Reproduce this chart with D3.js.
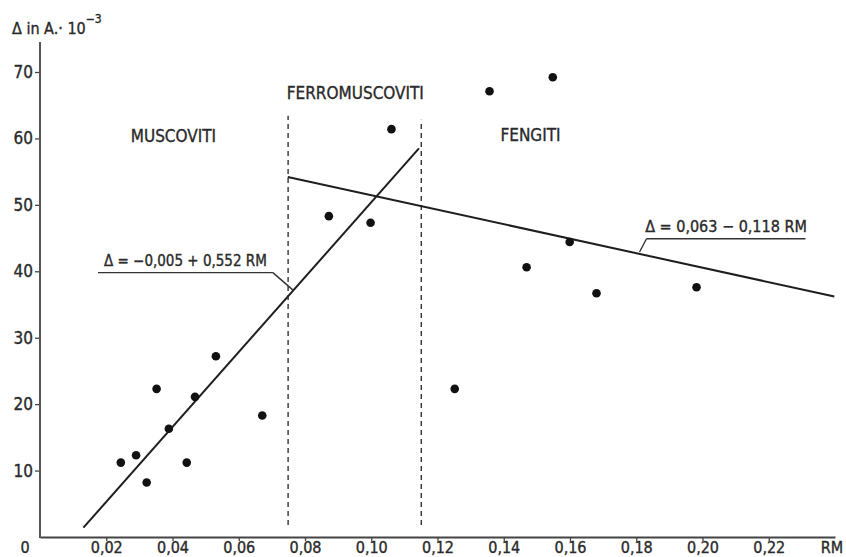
<!DOCTYPE html>
<html>
<head>
<meta charset="utf-8">
<script src="https://cdn.jsdelivr.net/npm/d3@7"></script>
<style>
  body { margin: 0; background: #fff; }
  svg { display: block; }
  text { font-family: "Liberation Sans Narrow", "DejaVu Sans Condensed", "DejaVu Sans", sans-serif; fill: #2a2a2a; stroke: #2a2a2a; stroke-width: 0.35px; }
</style>
</head>
<body>
<div id="chart"></div>
<script>
// RM and Δ (10^-3 Å)
const rmValues = [0.0244, 0.0290, 0.0322, 0.0352, 0.0389, 0.0443, 0.0468, 0.0531, 0.0671,
  0.0872, 0.0998, 0.1061, 0.1252, 0.1357, 0.1469, 0.1548, 0.1599, 0.1680, 0.1982];
const deltaValues = [11.2, 12.3, 8.2, 22.3, 16.3, 11.2, 21.1, 27.2, 18.3,
  48.3, 47.3, 61.4, 22.3, 67.1, 40.6, 69.2, 44.4, 36.7, 37.6];

const xTicks = [0.02, 0.04, 0.06, 0.08, 0.10, 0.12, 0.14, 0.16, 0.18, 0.20, 0.22];
const yTicks = [10, 20, 30, 40, 50, 60, 70];

// regression lines as drawn: [RM, Δ] end points
const fitMuscoviti = [[0.0131, 1.4], [0.1144, 58.5]];
const fitFengiti = [[0.0748, 54.2], [0.2398, 36.2]];

// field boundaries (dashed)
const boundaries = [
  { rm: 0.0749, from: 1.8, to: 63.4 },
  { rm: 0.1151, from: 1.8, to: 62.8 }
];

const fieldLabels = [
  { text: "MUSCOVITI", rm: 0.0274, delta: 59.4 },
  { text: "FERROMUSCOVITI", rm: 0.0745, delta: 65.9 },
  { text: "FENGITI", rm: 0.1390, delta: 59.6 }
];

// equation labels with underline + leader to their line
const equations = [
  { text: "Δ = −0,005 + 0,552  RM", x0: 0.0175, x1: 0.0703, y: 39.8, tip: [0.0763, 37.2], size: 15 },
  { text: "Δ = 0,063 − 0,118 RM", x0: 0.1831, x1: 0.2311, y: 44.9, tip: [0.1810, 42.9], size: 16 }
];

const width = 846, height = 557;
const svg = d3.select("#chart").append("svg")
  .attr("width", width)
  .attr("height", height);

const x = d3.scaleLinear().domain([0, 0.24]).range([40, 835]);
const y = d3.scaleLinear().domain([0, 70]).range([537, 72]);
const yTop = 74.5;

const fmt = v => d3.format(".2f")(v).replace(".", ",");

// x axis
const xAxis = svg.append("g")
  .attr("transform", `translate(0,${y(0)})`)
  .call(d3.axisBottom(x).tickValues(xTicks).tickFormat(fmt).tickSize(4).tickSizeOuter(0));
xAxis.select(".domain").attr("stroke", "#444").attr("stroke-width", 2);
xAxis.selectAll(".tick line").attr("stroke", "#444").attr("stroke-width", 1.3);
xAxis.selectAll("text")
  .attr("y", 16).attr("dy", 0)
  .style("font-size", "16px")
  .attr("fill", "#2a2a2a");

// y axis
const yAxis = svg.append("g")
  .attr("transform", `translate(${x(0)},0)`)
  .call(d3.axisLeft(y).tickValues(yTicks).tickSize(5).tickSizeOuter(0));
yAxis.select(".domain").remove();
yAxis.selectAll(".tick line").attr("stroke", "#444").attr("stroke-width", 1.3);
yAxis.selectAll("text")
  .attr("x", -7)
  .style("font-size", "17px")
  .attr("fill", "#2a2a2a");

svg.append("line")
  .attr("x1", x(0)).attr("x2", x(0))
  .attr("y1", y(0) + 1).attr("y2", y(yTop))
  .attr("stroke", "#555")
  .attr("stroke-width", 2);

svg.append("text")
  .attr("x", x(0) - 15).attr("y", y(0) + 16)
  .attr("text-anchor", "middle")
  .style("font-size", "16px")
  .text("0");

svg.append("text")
  .attr("x", 832).attr("y", y(0) + 16)
  .attr("text-anchor", "middle")
  .style("font-size", "16px")
  .text("RM");

// y label
const yLabel = svg.append("text")
  .attr("x", 12).attr("y", 34)
  .style("font-size", "16px");
yLabel.append("tspan").text("Δ in A.· 10");
yLabel.append("tspan")
  .attr("dy", -11)
  .style("font-size", "12px")
  .text("−3");

// boundaries
svg.selectAll(".boundary")
  .data(boundaries)
  .enter().append("line")
  .attr("class", "boundary")
  .attr("x1", d => x(d.rm)).attr("x2", d => x(d.rm))
  .attr("y1", d => y(d.from)).attr("y2", d => y(d.to))
  .attr("stroke", "#333")
  .attr("stroke-width", 1.4)
  .attr("stroke-dasharray", "5,4");

// fits
const line = d3.line().x(d => x(d[0])).y(d => y(d[1]));
[fitMuscoviti, fitFengiti].forEach(pts => {
  svg.append("path")
    .datum(pts)
    .attr("d", line)
    .attr("fill", "none")
    .attr("stroke", "#1e1e1e")
    .attr("stroke-width", 2);
});

// points
svg.selectAll(".dot")
  .data(rmValues.map((rm, i) => ({ rm, delta: deltaValues[i] })))
  .enter().append("circle")
  .attr("class", "dot")
  .attr("cx", d => x(d.rm))
  .attr("cy", d => y(d.delta))
  .attr("r", 4.3)
  .attr("fill", "#111");

// field labels
svg.selectAll(".field")
  .data(fieldLabels)
  .enter().append("text")
  .attr("class", "field")
  .attr("x", d => x(d.rm))
  .attr("y", d => y(d.delta))
  .style("font-size", "17px")
  .text(d => d.text);

// equations
equations.forEach(eq => {
  svg.append("text")
    .attr("x", (x(eq.x0) + x(eq.x1)) / 2)
    .attr("y", y(eq.y) - 7)
    .attr("text-anchor", "middle")
    .style("font-size", `${eq.size}px`)
    .text(eq.text);
  svg.append("path")
    .datum([[eq.x0, eq.y], [eq.x1, eq.y]])
    .attr("d", line)
    .attr("fill", "none")
    .attr("stroke", "#333")
    .attr("stroke-width", 1.4);
  const end = eq.tip[0] > eq.x1 ? eq.x1 : eq.x0;
  svg.append("path")
    .datum([[end, eq.y], eq.tip])
    .attr("d", line)
    .attr("fill", "none")
    .attr("stroke", "#333")
    .attr("stroke-width", 1.4);
});
</script>
</body>
</html>
